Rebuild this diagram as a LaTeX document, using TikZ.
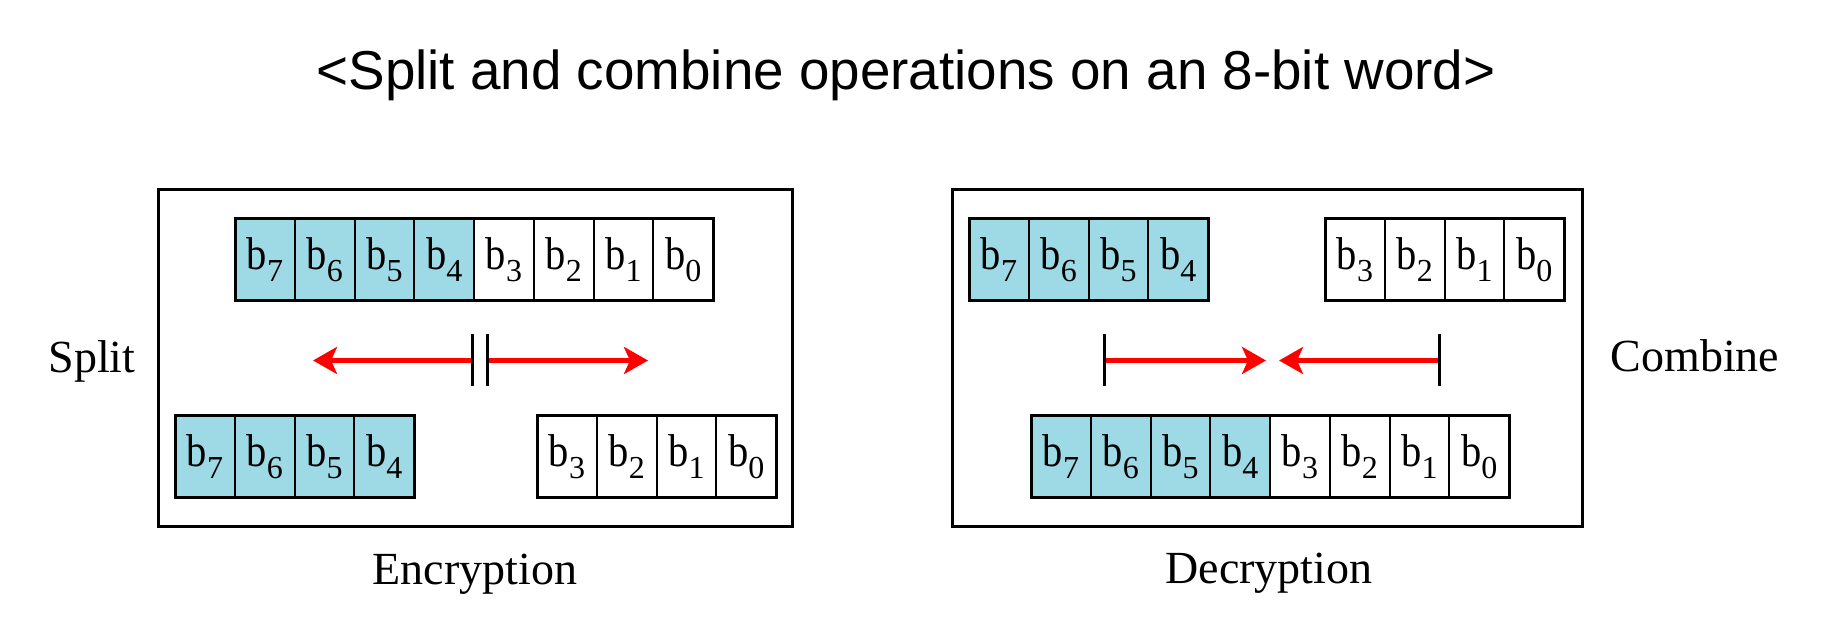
\documentclass[tikz,border=0pt]{standalone}
\usepackage{fontspec}
\setmainfont{Liberation Serif}
\newfontfamily\titlefont{Liberation Sans}
\usetikzlibrary{arrows.meta}
\definecolor{cellblue}{RGB}{158,217,230}
\definecolor{arrowred}{RGB}{255,0,0}
\newcommand{\bitlabel}[1]{\scalebox{0.88}[1]{b}\raisebox{-6pt}{\fontsize{16}{16}\selectfont #1}}
\begin{document}
\begin{tikzpicture}[x=0.5pt,y=-0.5pt,
  cell/.style={draw=black, line width=1pt, minimum width=29.875pt, minimum height=41pt,
    inner sep=0pt, outer sep=0pt, font=\fontsize{23}{23}\selectfont, anchor=center},
  hi/.style={cell, fill=cellblue},
  lo/.style={cell, fill=white},
  rowframe/.style={draw=black, line width=1.5pt},
  panel/.style={draw=black, line width=1.5pt, inner sep=0pt, outer sep=0pt},
  caption/.style={font=\fontsize{23}{23}\selectfont, inner sep=0pt, anchor=base},
  bar/.style={draw=black, line width=1.5pt},
  redarrow/.style={draw=arrowred, line width=2.5pt, -{Stealth[length=12pt,width=13.5pt,inset=3pt]}}]

\useasboundingbox (0,0) rectangle (1830,640);

% title
\node[font=\titlefont\fontsize{27.4}{28}\selectfont, anchor=base, inner sep=0pt] (title) at (906,90)
  {<Split and combine operations on an 8-bit word>};

% panels
\node[panel, minimum width=317pt, minimum height=168.5pt] (encpanel) at (475,358.5) {};
\node[panel, minimum width=315pt, minimum height=168.5pt] (decpanel) at (1267,358.5) {};

% ---------- Encryption ----------
\foreach \i/\d/\s in {0/7/hi,1/6/hi,2/5/hi,3/4/hi,4/3/lo,5/2/lo,6/1/lo,7/0/lo}
  \node[\s] (et\d) at (264.9+59.75*\i,259.5) {\bitlabel{\d}};
\draw[rowframe] (et7.north west) rectangle (et0.south east);

\foreach \i/\d in {0/7,1/6,2/5,3/4}
  \node[hi] (ebl\d) at (204.9+59.75*\i,457) {\bitlabel{\d}};
\draw[rowframe] (ebl7.north west) rectangle (ebl4.south east);

\foreach \i/\d in {0/3,1/2,2/1,3/0}
  \node[lo] (ebr\d) at (566.9+59.75*\i,457) {\bitlabel{\d}};
\draw[rowframe] (ebr3.north west) rectangle (ebr0.south east);

\coordinate (sbarL) at (472,360.5);
\coordinate (sbarR) at (487,360.5);
\coordinate (stipL) at (313,360.5);
\coordinate (stipR) at (648,360.5);
\draw[redarrow] (sbarL) -- (stipL);
\draw[redarrow] (sbarR) -- (stipR);
\draw[bar] (sbarL) ++(0,-26) -- ++(0,52);
\draw[bar] (sbarR) ++(0,-26) -- ++(0,52);

\node[caption] (split) at (92,373) {Split};
\node[caption] (enc) at (475,584) {Encryption};

% ---------- Decryption ----------
\foreach \i/\d in {0/7,1/6,2/5,3/4}
  \node[hi] (dtl\d) at (998.9+59.75*\i,259.5) {\bitlabel{\d}};
\draw[rowframe] (dtl7.north west) rectangle (dtl4.south east);

\foreach \i/\d in {0/3,1/2,2/1,3/0}
  \node[lo] (dtr\d) at (1354.9+59.75*\i,259.5) {\bitlabel{\d}};
\draw[rowframe] (dtr3.north west) rectangle (dtr0.south east);

\foreach \i/\d/\s in {0/7/hi,1/6/hi,2/5/hi,3/4/hi,4/3/lo,5/2/lo,6/1/lo,7/0/lo}
  \node[\s] (db\d) at (1060.9+59.75*\i,457) {\bitlabel{\d}};
\draw[rowframe] (db7.north west) rectangle (db0.south east);

\coordinate (cbarL) at (1104,360.5);
\coordinate (cbarR) at (1439,360.5);
\coordinate (ctipL) at (1266,360.5);
\coordinate (ctipR) at (1279,360.5);
\draw[redarrow] (cbarL) -- (ctipL);
\draw[redarrow] (cbarR) -- (ctipR);
\draw[bar] (cbarL) ++(0,-26) -- ++(0,52);
\draw[bar] (cbarR) ++(0,-26) -- ++(0,52);

\node[caption] (combine) at (1695,372) {Combine};
\node[caption] (dec) at (1269,583) {Decryption};
\end{tikzpicture}
\end{document}
